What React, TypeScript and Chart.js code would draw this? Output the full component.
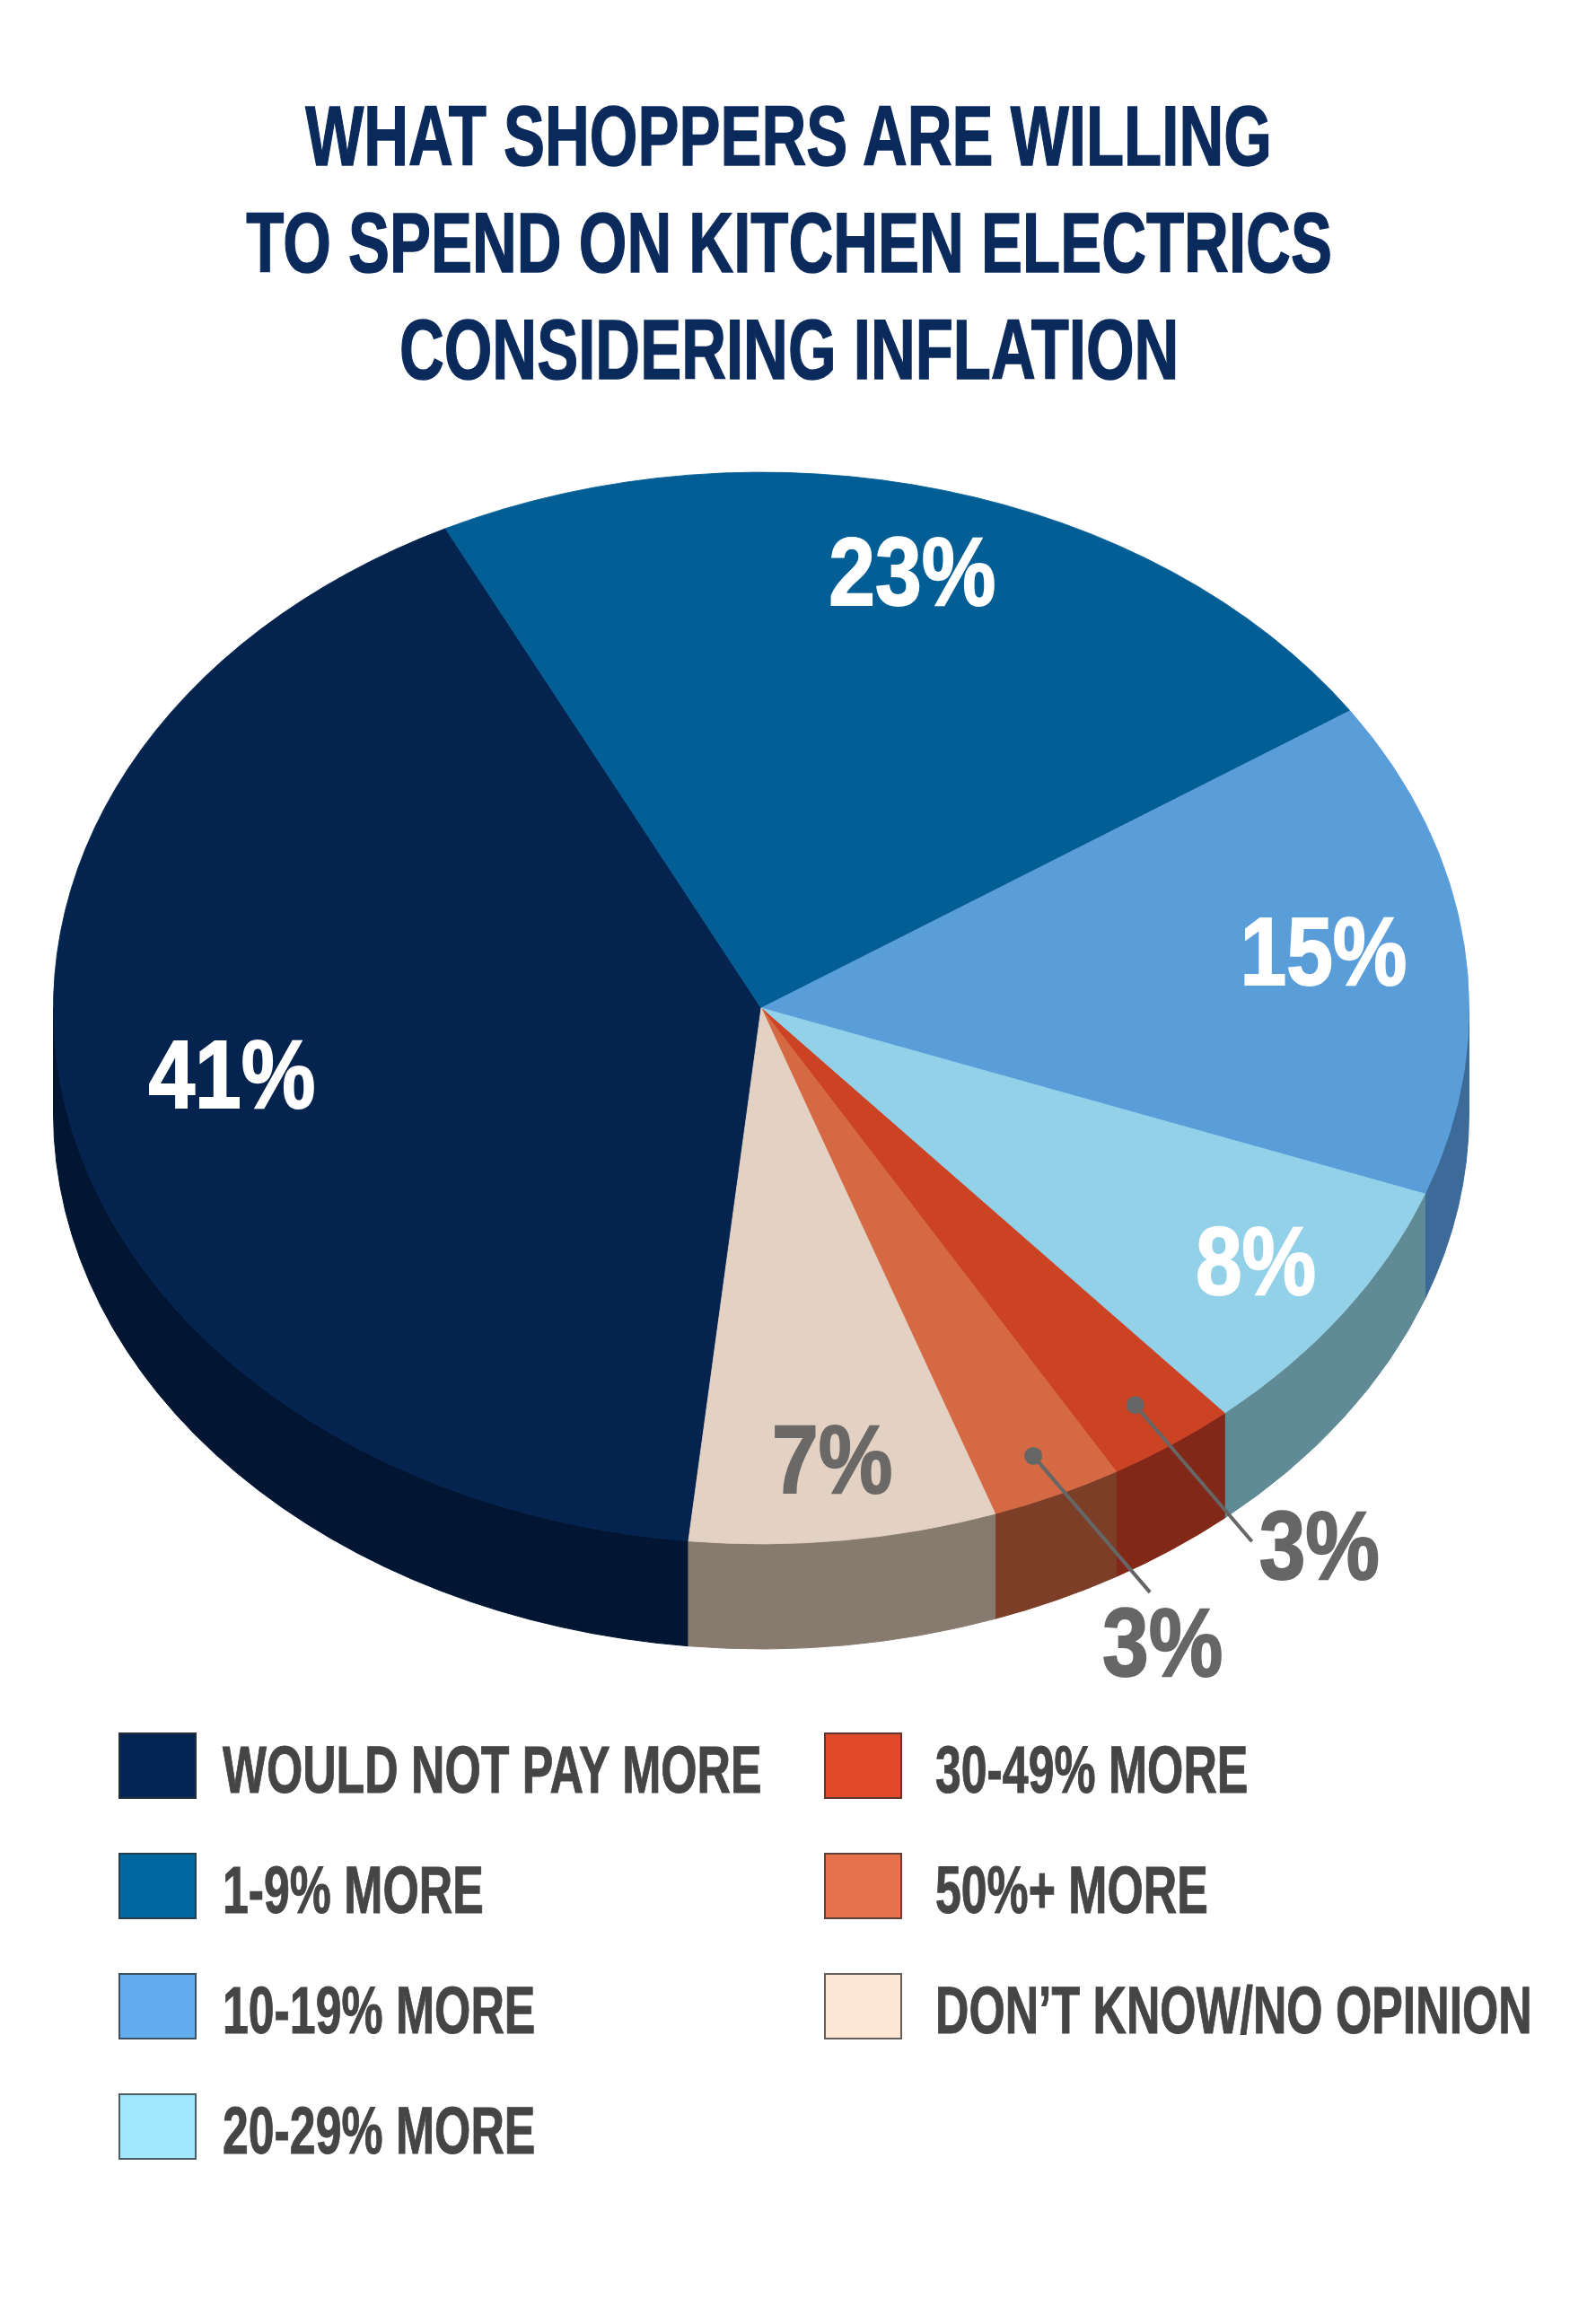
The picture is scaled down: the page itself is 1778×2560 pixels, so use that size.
import { useEffect, useRef } from "react";
import { Chart, registerables } from "chart.js";

Chart.register(...registerables);

const titleLines = [
  "WHAT SHOPPERS ARE WILLING",
  "TO SPEND ON KITCHEN ELECTRICS",
  "CONSIDERING INFLATION",
];
const categories = [
  "WOULD NOT PAY MORE",
  "1-9% MORE",
  "10-19% MORE",
  "20-29% MORE",
  "30-49% MORE",
  "50%+ MORE",
  "DON’T KNOW/NO OPINION",
];
const shares = [41, 23, 15, 8, 3, 3, 7];
const sliceColors = ["#05234f", "#025e94", "#5a9ed9", "#92d1e8", "#cc4323", "#d46943", "#e3d1c4"];
const sideColors = ["#021633", "#02406a", "#3d6b99", "#5f8a96", "#822818", "#7d3e28", "#877a6f"];
const legendColors = ["#032554", "#0067a0", "#62acef", "#a0e6fc", "#e04a28", "#e6714b", "#fde8d8"];
const labelColors = ["#ffffff", "#ffffff", "#ffffff", "#ffffff", "#666666", "#666666", "#6b6967"];
// where each slice label sits, as a share of the radius
const labelRadius = [0.76, 0.83, 0.8, 0.85, 0.91, 0.92, 0.86];
const outsidePlacement = ["right", "below"];

const TILT = 0.757;
const DEPTH = 117;
const FONT = '"Liberation Sans", Arial, sans-serif';

function drawText(ctx: CanvasRenderingContext2D, text: string, x: number, y: number, align: CanvasTextAlign, color: string) {
  ctx.save();
  ctx.translate(x, y);
  ctx.scale(0.86, 1);
  ctx.font = `bold 108px ${FONT}`;
  ctx.fillStyle = color;
  ctx.strokeStyle = color;
  ctx.lineWidth = 2;
  ctx.textAlign = align;
  ctx.textBaseline = "middle";
  ctx.fillText(text, 0, 0);
  ctx.strokeText(text, 0, 0);
  ctx.restore();
}

const pie3d = {
  id: "pie3d",
  beforeDatasetsDraw(chart: any) {
    const ctx: CanvasRenderingContext2D = chart.ctx;
    const meta = chart.getDatasetMeta(0);
    meta.data.forEach((arc: any, i: number) => {
      const { x, y, startAngle, endAngle, outerRadius } = arc;
      const ry = outerRadius * TILT;
      for (let k = -1; k <= 2; k++) {
        const lo = Math.max(startAngle, k * 2 * Math.PI);
        const hi = Math.min(endAngle, k * 2 * Math.PI + Math.PI);
        if (hi <= lo) continue;
        ctx.beginPath();
        ctx.ellipse(x, y, outerRadius, ry, 0, lo, hi);
        ctx.lineTo(x + outerRadius * Math.cos(hi), y + ry * Math.sin(hi) + DEPTH);
        ctx.ellipse(x, y + DEPTH, outerRadius, ry, 0, hi, lo, true);
        ctx.closePath();
        ctx.fillStyle = sideColors[i];
        ctx.strokeStyle = sideColors[i];
        ctx.lineWidth = 1;
        ctx.fill();
        ctx.stroke();
      }
    });
    const { x: cx, y: cy } = meta.data[0];
    ctx.save();
    ctx.translate(cx, cy);
    ctx.scale(1, TILT);
    ctx.translate(-cx, -cy);
  },
  afterDatasetsDraw(chart: any) {
    const ctx: CanvasRenderingContext2D = chart.ctx;
    ctx.restore();
    const meta = chart.getDatasetMeta(0);
    let small = 0;
    meta.data.forEach((arc: any, i: number) => {
      const { x, y, startAngle, endAngle, outerRadius } = arc;
      const mid = (startAngle + endAngle) / 2;
      const text = `${shares[i]}%`;
      const r = outerRadius * labelRadius[i];
      const px = x + r * Math.cos(mid);
      const py = y + r * Math.sin(mid) * TILT;
      if (shares[i] >= 5) {
        drawText(ctx, text, px, py, "center", labelColors[i]);
        return;
      }
      const ex = px + 130;
      const ey = py + 152;
      ctx.save();
      ctx.strokeStyle = "#666666";
      ctx.fillStyle = "#666666";
      ctx.lineWidth = 4;
      ctx.beginPath();
      ctx.moveTo(px, py);
      ctx.lineTo(ex, ey);
      ctx.stroke();
      ctx.beginPath();
      ctx.arc(px, py, 10, 0, Math.PI * 2);
      ctx.fill();
      ctx.restore();
      if (outsidePlacement[small] === "right") {
        drawText(ctx, text, ex + 8, ey + 12, "left", labelColors[i]);
      } else {
        drawText(ctx, text, ex + 14, ey + 63, "center", labelColors[i]);
      }
      small++;
    });
  },
};

export default function App() {
  const canvasRef = useRef<HTMLCanvasElement | null>(null);
  const chartRef = useRef<Chart | null>(null);

  useEffect(() => {
    if (!canvasRef.current) return;
    if (chartRef.current) chartRef.current.destroy();
    const R = 789;
    const cx = 848;
    const cy = 1123;
    chartRef.current = new Chart(canvasRef.current, {
      type: "pie",
      data: {
        labels: categories,
        datasets: [
          {
            data: shares,
            backgroundColor: sliceColors,
            borderColor: sliceColors,
            borderWidth: 1,
            clip: false,
          } as any,
        ],
      },
      options: {
        responsive: false,
        animation: false,
        rotation: 185.9,
        layout: {
          padding: { left: cx - R, right: 1778 - cx - R, top: cy - R, bottom: 2560 - cy - R },
        },
        plugins: {
          legend: { display: false },
          tooltip: { enabled: false },
          title: { display: false },
        },
      },
      plugins: [pie3d],
    });
    return () => chartRef.current?.destroy();
  }, []);

  const rowTop = (i: number) => 1930 + (i < 4 ? i : i - 4) * 134;

  return (
    <div style={{ position: "relative", width: 1778, height: 2560, background: "#fff", overflow: "hidden", fontFamily: FONT }}>
      <style>{"body{margin:0}"}</style>
      <canvas ref={canvasRef} width={1778} height={2560} style={{ position: "absolute", left: 0, top: 0 }} />
      {titleLines.map((line, i) => (
        <div
          key={line}
          style={{
            position: "absolute",
            left: 0,
            width: 1758,
            top: 104 + i * 119,
            textAlign: "center",
            fontSize: 95,
            lineHeight: "95px",
            fontWeight: 700,
            color: "#0b2a5c",
            whiteSpace: "nowrap",
            WebkitTextStroke: "1.5px #0b2a5c",
          }}
        >
          <span style={{ display: "inline-block", transform: "scaleX(0.726)" }}>{line}</span>
        </div>
      ))}
      {categories.map((c, i) => (
        <div key={c}>
          <div
            style={{
              position: "absolute",
              left: i < 4 ? 132 : 918,
              top: rowTop(i),
              width: 87,
              height: 74,
              boxSizing: "border-box",
              background: legendColors[i],
              border: "2px solid rgba(50,50,50,0.75)",
            }}
          />
          <div
            style={{
              position: "absolute",
              left: i < 4 ? 248 : 1042,
              top: rowTop(i) + 5,
              fontSize: 74,
              lineHeight: "74px",
              fontWeight: 700,
              color: "#454545",
              whiteSpace: "nowrap",
              WebkitTextStroke: "1px #454545",
              transformOrigin: "left center",
              transform: "scaleX(0.7)",
            }}
          >
            {c}
          </div>
        </div>
      ))}
    </div>
  );
}
